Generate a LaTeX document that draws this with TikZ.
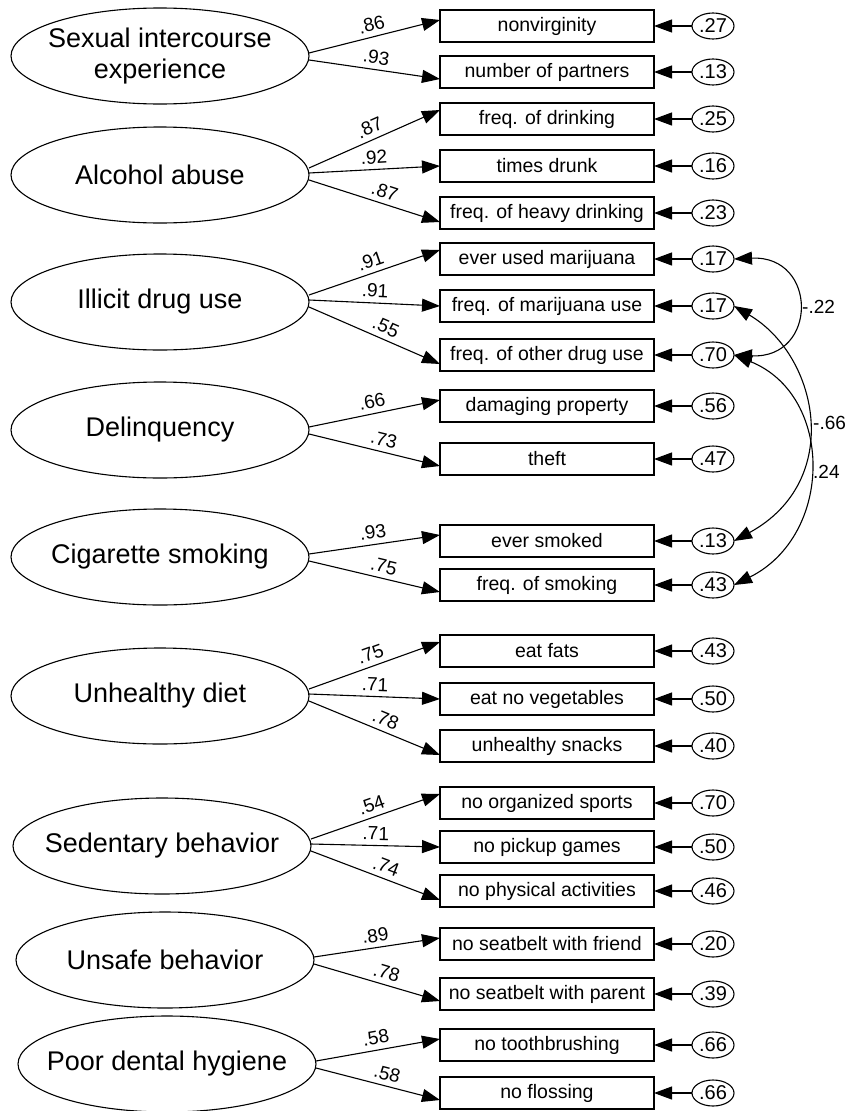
\documentclass[tikz,border=0pt]{standalone}
\usepackage{fontspec}
\setmainfont{Liberation Sans}
\usetikzlibrary{shapes.geometric,arrows.meta,calc}
\begin{document}
\begin{tikzpicture}[x=1pt,y=-1pt,
  latent/.style={ellipse, draw, line width=1.1pt, minimum width=298pt, minimum height=96pt, inner sep=0pt, outer sep=0pt},
  ltxt/.style={align=center, inner sep=0pt, font=\fontsize{27}{31}\selectfont},
  obs/.style={rectangle, draw, line width=1.1pt, minimum width=214pt, minimum height=32pt, inner sep=0pt, outer sep=0pt, font=\fontsize{19.5}{22}\selectfont},
  err/.style={ellipse, draw, line width=1.1pt, minimum width=42pt, minimum height=26pt, inner sep=0pt, outer sep=0pt, font=\fontsize{20}{22}\selectfont},
  ld/.style={line width=1.1pt, -{Triangle[length=18pt,width=13pt]}},
  cov/.style={line width=1.1pt, {Triangle[length=18pt,width=13pt]}-{Triangle[length=18pt,width=13pt]}},
  coef/.style={font=\fontsize{19}{21}\selectfont, sloped, above=4pt, inner sep=1pt},
  cl/.style={font=\fontsize{19}{21}\selectfont, anchor=west, inner sep=0pt}]
\useasboundingbox (0,0) rectangle (848,1111);

% latent variables
\node[latent] (e1) at (160,56) {};
\node[latent] (e2) at (160,175) {};
\node[latent] (e3) at (160,302) {};
\node[latent] (e4) at (160,430) {};
\node[latent] (e5) at (160,557) {};
\node[latent] (e6) at (160,696) {};
\node[latent] (e7) at (162,846) {};
\node[latent] (e8) at (165,960) {};
\node[latent] (e9) at (167,1064) {};
\node[ltxt] (t1) at (e1) {Sexual intercourse\\experience};
\node[ltxt] (t2) at (e2) {Alcohol abuse};
\node[ltxt] (t3) at (e3) {Illicit drug use};
\node[ltxt] (t4) at (e4) {Delinquency};
\node[ltxt] (t5) at (e5) {Cigarette smoking};
\node[ltxt] (t6) at (e6) {Unhealthy diet};
\node[ltxt] (t7) at (e7) {Sedentary behavior};
\node[ltxt] (t8) at (e8) {Unsafe behavior};
\node[ltxt] (t9) at (e9) {Poor dental hygiene};

% indicators
\node[obs] (b1) at (547,26) {nonvirginity};
\node[obs] (b2) at (547,72) {number of partners};
\node[obs] (b3) at (547,119) {freq. of drinking};
\node[obs] (b4) at (547,166) {times drunk};
\node[obs] (b5) at (547,213) {freq. of heavy drinking};
\node[obs] (b6) at (547,259) {ever used marijuana};
\node[obs] (b7) at (547,306) {freq. of marijuana use};
\node[obs] (b8) at (547,355) {freq. of other drug use};
\node[obs] (b9) at (547,406) {damaging property};
\node[obs] (b10) at (547,459) {theft};
\node[obs] (b11) at (547,541) {ever smoked};
\node[obs] (b12) at (547,585) {freq. of smoking};
\node[obs] (b13) at (547,651) {eat fats};
\node[obs] (b14) at (547,699) {eat no vegetables};
\node[obs] (b15) at (547,746) {unhealthy snacks};
\node[obs] (b16) at (547,803) {no organized sports};
\node[obs] (b17) at (547,847) {no pickup games};
\node[obs] (b18) at (547,891) {no physical activities};
\node[obs] (b19) at (547,944) {no seatbelt with friend};
\node[obs] (b20) at (547,994) {no seatbelt with parent};
\node[obs] (b21) at (547,1045) {no toothbrushing};
\node[obs] (b22) at (547,1093) {no flossing};

% error terms
\node[err] (c1) at (713,26) {.27};
\node[err] (c2) at (713,72) {.13};
\node[err] (c3) at (713,119) {.25};
\node[err] (c4) at (713,166) {.16};
\node[err] (c5) at (713,213) {.23};
\node[err] (c6) at (713,259) {.17};
\node[err] (c7) at (713,306) {.17};
\node[err] (c8) at (713,355) {.70};
\node[err] (c9) at (713,406) {.56};
\node[err] (c10) at (713,459) {.47};
\node[err] (c11) at (713,541) {.13};
\node[err] (c12) at (713,585) {.43};
\node[err] (c13) at (713,651) {.43};
\node[err] (c14) at (713,699) {.50};
\node[err] (c15) at (713,746) {.40};
\node[err] (c16) at (713,803) {.70};
\node[err] (c17) at (713,847) {.50};
\node[err] (c18) at (713,891) {.46};
\node[err] (c19) at (713,944) {.20};
\node[err] (c20) at (713,994) {.39};
\node[err] (c21) at (713,1045) {.66};
\node[err] (c22) at (713,1093) {.66};

% error arrows
\foreach \i in {1,...,22} {\draw[ld] (c\i.west) -- (b\i.east);}

% loadings
\draw[ld] ($(e1.east)+(0,-3)$) -- node[coef, pos=0.5] {.86} ($(b1.west)+(0,-6)$);
\draw[ld] ($(e1.east)+(0,4)$) -- node[coef, pos=0.5] {.93} ($(b2.west)+(0,7)$);

\draw[ld] ($(e2.east)+(0,-7)$) -- node[coef, pos=0.5] {.87} ($(b3.west)+(0,-9)$);
\draw[ld] ($(e2.east)+(0,-2)$) -- node[coef, pos=0.5] {.92} ($(b4.west)+(0,0)$);
\draw[ld] ($(e2.east)+(0,5)$) -- node[coef, pos=0.55] {.87} ($(b5.west)+(0,9)$);

\draw[ld] ($(e3.east)+(0,-7)$) -- node[coef, pos=0.5] {.91} ($(b6.west)+(0,-9)$);
\draw[ld] ($(e3.east)+(0,-2)$) -- node[coef, pos=0.5] {.91} ($(b7.west)+(0,0)$);
\draw[ld] ($(e3.east)+(0,5)$) -- node[coef, pos=0.55] {.55} ($(b8.west)+(0,9)$);

\draw[ld] ($(e4.east)+(0,-3)$) -- node[coef, pos=0.5] {.66} ($(b9.west)+(0,-6)$);
\draw[ld] ($(e4.east)+(0,4)$) -- node[coef, pos=0.55] {.73} ($(b10.west)+(0,7)$);

\draw[ld] ($(e5.east)+(0,-3)$) -- node[coef, pos=0.5] {.93} ($(b11.west)+(0,-6)$);
\draw[ld] ($(e5.east)+(0,4)$) -- node[coef, pos=0.55] {.75} ($(b12.west)+(0,7)$);

\draw[ld] ($(e6.east)+(0,-7)$) -- node[coef, pos=0.5] {.75} ($(b13.west)+(0,-9)$);
\draw[ld] ($(e6.east)+(0,-2)$) -- node[coef, pos=0.5] {.71} ($(b14.west)+(0,0)$);
\draw[ld] ($(e6.east)+(0,5)$) -- node[coef, pos=0.55] {.78} ($(b15.west)+(0,9)$);

\draw[ld] ($(e7.east)+(0,-7)$) -- node[coef, pos=0.5] {.54} ($(b16.west)+(0,-9)$);
\draw[ld] ($(e7.east)+(0,-2)$) -- node[coef, pos=0.5] {.71} ($(b17.west)+(0,0)$);
\draw[ld] ($(e7.east)+(0,5)$) -- node[coef, pos=0.55] {.74} ($(b18.west)+(0,9)$);

\draw[ld] ($(e8.east)+(0,-3)$) -- node[coef, pos=0.5] {.89} ($(b19.west)+(0,-6)$);
\draw[ld] ($(e8.east)+(0,4)$) -- node[coef, pos=0.55] {.78} ($(b20.west)+(0,7)$);

\draw[ld] ($(e9.east)+(0,-3)$) -- node[coef, pos=0.5] {.58} ($(b21.west)+(0,-6)$);
\draw[ld] ($(e9.east)+(0,4)$) -- node[coef, pos=0.55] {.58} ($(b22.west)+(0,7)$);

% covariances
\draw[cov] (c6.east) .. controls ($(c6.east)+(84,-4)$) and ($(c8.east)+(84,4)$) .. (c8.east);
\draw[cov] (c7.east) .. controls ($(c7.east)+(85,50)$) and ($(c11.east)+(110,-60)$) .. (c11.east);
\draw[cov] (c8.east) .. controls ($(c8.east)+(100,40)$) and ($(c12.east)+(100,-50)$) .. (c12.east);

\coordinate (k1) at (802,307);
\coordinate (k2) at (813,423);
\coordinate (k3) at (813,472);
\node[cl] (l1) at (k1) {-.22};
\node[cl] (l2) at (k2) {-.66};
\node[cl] (l3) at (k3) {.24};
\end{tikzpicture}
\end{document}
